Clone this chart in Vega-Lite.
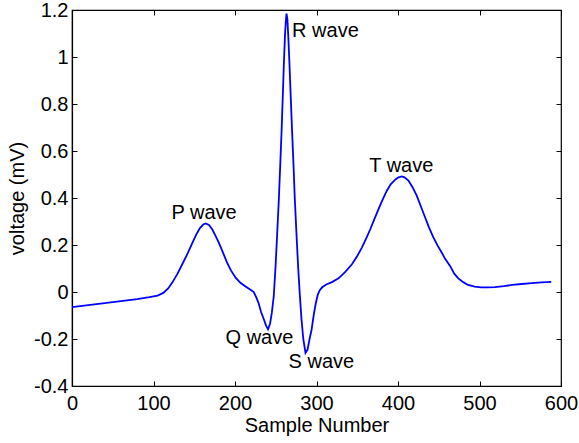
{
  "$schema": "https://vega.github.io/schema/vega-lite/v6.json",
  "width": 489,
  "height": 376,
  "autosize": {"type": "none"},
  "padding": {"left": 72, "top": 10, "right": 18, "bottom": 57},
  "background": "white",
  "config": {
    "font": "Liberation Sans",
    "view": {"stroke": "black", "strokeWidth": 1.2},
    "axis": {
      "grid": false,
      "labelFlush": false,
      "labelOverlap": false,
      "domainColor": "black",
      "domainWidth": 1.2,
      "tickColor": "black",
      "tickWidth": 1,
      "labelColor": "black",
      "titleColor": "black",
      "labelFont": "Liberation Sans",
      "titleFont": "Liberation Sans",
      "labelFontSize": 20,
      "titleFontSize": 20,
      "titleFontWeight": "normal"
    }
  },
  "datasets": {
    "ecg": [
      {"sample": 0, "voltage": -0.064},
      {"sample": 20, "voltage": -0.056},
      {"sample": 40, "voltage": -0.047},
      {"sample": 60, "voltage": -0.039},
      {"sample": 80, "voltage": -0.030},
      {"sample": 95, "voltage": -0.022},
      {"sample": 105, "voltage": -0.015},
      {"sample": 112, "voltage": -0.004},
      {"sample": 118, "voltage": 0.015},
      {"sample": 123, "voltage": 0.04},
      {"sample": 129, "voltage": 0.075},
      {"sample": 135, "voltage": 0.116},
      {"sample": 142, "voltage": 0.165},
      {"sample": 148, "voltage": 0.211},
      {"sample": 153, "voltage": 0.248},
      {"sample": 157, "voltage": 0.272},
      {"sample": 161, "voltage": 0.287},
      {"sample": 164, "voltage": 0.292},
      {"sample": 168, "voltage": 0.285},
      {"sample": 172, "voltage": 0.267},
      {"sample": 176, "voltage": 0.240},
      {"sample": 180, "voltage": 0.211},
      {"sample": 185, "voltage": 0.170},
      {"sample": 190, "voltage": 0.127},
      {"sample": 195, "voltage": 0.092},
      {"sample": 201, "voltage": 0.060},
      {"sample": 207, "voltage": 0.038},
      {"sample": 213, "voltage": 0.023},
      {"sample": 219, "voltage": 0.010},
      {"sample": 223, "voltage": 0.0},
      {"sample": 226, "voltage": -0.022},
      {"sample": 229, "voltage": -0.048},
      {"sample": 232, "voltage": -0.085},
      {"sample": 235.5, "voltage": -0.117},
      {"sample": 238, "voltage": -0.142},
      {"sample": 240.5, "voltage": -0.159},
      {"sample": 243, "voltage": -0.135},
      {"sample": 245.2, "voltage": -0.088},
      {"sample": 247.5, "voltage": -0.02},
      {"sample": 249.8, "voltage": 0.111},
      {"sample": 251.8, "voltage": 0.25},
      {"sample": 253.8, "voltage": 0.395},
      {"sample": 255.5, "voltage": 0.54},
      {"sample": 257.1, "voltage": 0.68},
      {"sample": 258.5, "voltage": 0.82},
      {"sample": 259.9, "voltage": 0.964},
      {"sample": 261.3, "voltage": 1.09},
      {"sample": 262.3, "voltage": 1.15},
      {"sample": 263.2, "voltage": 1.185},
      {"sample": 264.3, "voltage": 1.16},
      {"sample": 265.5, "voltage": 1.08},
      {"sample": 266.9, "voltage": 0.964},
      {"sample": 268.5, "voltage": 0.82},
      {"sample": 270.1, "voltage": 0.68},
      {"sample": 271.8, "voltage": 0.54},
      {"sample": 273.4, "voltage": 0.395},
      {"sample": 275.4, "voltage": 0.25},
      {"sample": 277.4, "voltage": 0.111},
      {"sample": 279.5, "voltage": -0.01},
      {"sample": 281.6, "voltage": -0.116},
      {"sample": 283.8, "voltage": -0.2},
      {"sample": 286.5, "voltage": -0.259},
      {"sample": 289, "voltage": -0.245},
      {"sample": 291.5, "voltage": -0.2},
      {"sample": 294, "voltage": -0.16},
      {"sample": 296.5, "voltage": -0.1},
      {"sample": 299, "voltage": -0.05},
      {"sample": 301.5, "voltage": -0.012},
      {"sample": 304, "voltage": 0.008},
      {"sample": 307, "voltage": 0.02},
      {"sample": 312, "voltage": 0.032},
      {"sample": 319, "voltage": 0.042},
      {"sample": 327, "voltage": 0.058},
      {"sample": 335, "voltage": 0.085},
      {"sample": 343.5, "voltage": 0.118},
      {"sample": 350, "voltage": 0.153},
      {"sample": 355.7, "voltage": 0.189},
      {"sample": 361, "voltage": 0.228},
      {"sample": 366, "voltage": 0.267},
      {"sample": 371, "voltage": 0.310},
      {"sample": 376.1, "voltage": 0.353},
      {"sample": 381, "voltage": 0.392},
      {"sample": 386.3, "voltage": 0.431},
      {"sample": 391, "voltage": 0.458},
      {"sample": 396.6, "voltage": 0.478},
      {"sample": 400, "voltage": 0.487},
      {"sample": 404.6, "voltage": 0.492},
      {"sample": 408, "voltage": 0.488},
      {"sample": 412.8, "voltage": 0.474},
      {"sample": 418, "voltage": 0.445},
      {"sample": 423, "voltage": 0.41},
      {"sample": 428, "voltage": 0.365},
      {"sample": 433.3, "voltage": 0.317},
      {"sample": 438, "voltage": 0.275},
      {"sample": 443.4, "voltage": 0.232},
      {"sample": 449, "voltage": 0.195},
      {"sample": 453.6, "voltage": 0.168},
      {"sample": 458, "voltage": 0.14},
      {"sample": 463.9, "voltage": 0.111},
      {"sample": 469, "voltage": 0.078},
      {"sample": 474, "voltage": 0.058},
      {"sample": 480, "voltage": 0.042},
      {"sample": 486, "voltage": 0.030},
      {"sample": 494, "voltage": 0.023},
      {"sample": 502, "voltage": 0.020},
      {"sample": 510, "voltage": 0.020},
      {"sample": 519, "voltage": 0.021},
      {"sample": 530, "voltage": 0.025},
      {"sample": 540, "voltage": 0.030},
      {"sample": 552, "voltage": 0.034},
      {"sample": 564, "voltage": 0.038},
      {"sample": 576, "voltage": 0.041},
      {"sample": 588, "voltage": 0.043}
    ],
    "labels": [
      {"sample": 162, "voltage": 0.335, "label": "P wave"},
      {"sample": 230, "voltage": -0.197, "label": "Q wave"},
      {"sample": 311, "voltage": 1.11, "label": "R wave"},
      {"sample": 306, "voltage": -0.299, "label": "S wave"},
      {"sample": 404, "voltage": 0.535, "label": "T wave"}
    ]
  },
  "layer": [
    {
      "data": {"name": "ecg"},
      "mark": {"type": "line", "color": "#0000ff", "strokeWidth": 1.8, "clip": true},
      "encoding": {
        "x": {
          "field": "sample",
          "type": "quantitative",
          "scale": {"domain": [0, 600], "nice": false, "zero": false},
          "axis": {"orient": "bottom", "values": [0, 100, 200, 300, 400, 500, 600], "tickSize": -5, "labelPadding": 12, "title": "Sample Number", "titlePadding": 2, "format": "d"}
        },
        "y": {
          "field": "voltage",
          "type": "quantitative",
          "scale": {"domain": [-0.4, 1.2], "nice": false, "zero": false},
          "axis": {"orient": "left", "values": [-0.4, -0.2, 0, 0.2, 0.4, 0.6, 0.8, 1, 1.2], "tickSize": -5, "labelPadding": 9, "title": "voltage (mV)", "titlePadding": 6, "labelExpr": "replace(format(datum.value, '~g'), '\u2212', '-')"}
        }
      }
    },
    {
      "data": {"name": "labels"},
      "mark": {"type": "text", "font": "Liberation Sans", "fontSize": 20, "color": "black", "align": "center", "baseline": "middle"},
      "encoding": {
        "x": {
          "field": "sample",
          "type": "quantitative",
          "scale": {"domain": [0, 600], "nice": false, "zero": false},
          "axis": {"orient": "top", "values": [0, 100, 200, 300, 400, 500, 600], "tickSize": -5, "labels": false, "domain": false, "title": null}
        },
        "y": {
          "field": "voltage",
          "type": "quantitative",
          "scale": {"domain": [-0.4, 1.2], "nice": false, "zero": false},
          "axis": {"orient": "right", "values": [-0.4, -0.2, 0, 0.2, 0.4, 0.6, 0.8, 1, 1.2], "tickSize": -5, "labels": false, "domain": false, "title": null}
        },
        "text": {"field": "label"}
      }
    }
  ],
  "resolve": {"axis": {"x": "independent", "y": "independent"}}
}
